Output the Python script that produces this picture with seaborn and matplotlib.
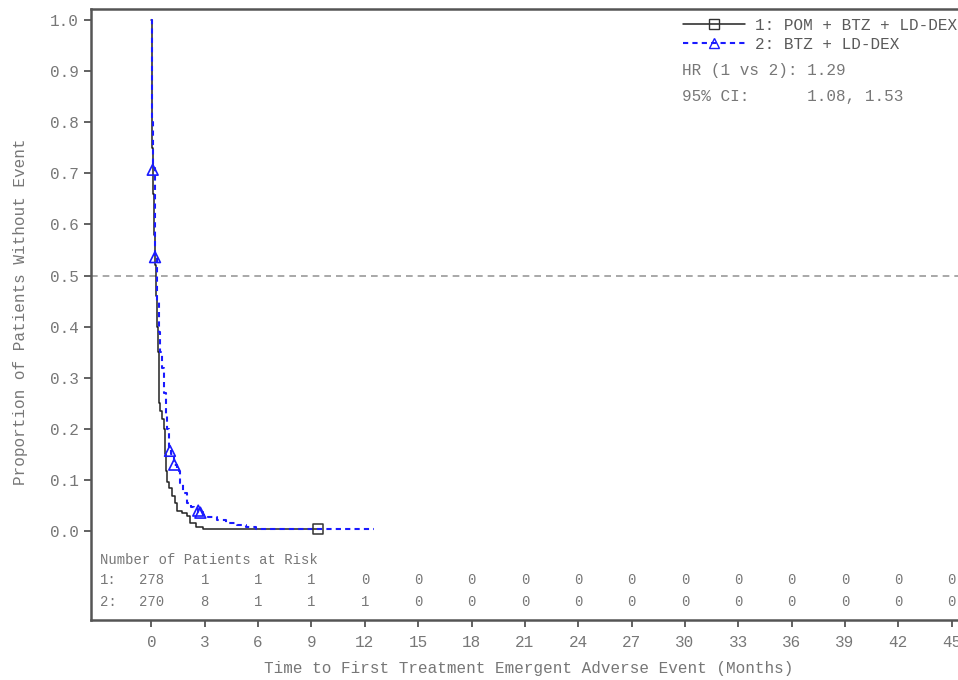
import numpy as np
import pandas as pd
import matplotlib
matplotlib.use("Agg")
import matplotlib.pyplot as plt
from matplotlib.lines import Line2D
import seaborn as sns

# ---------------- data ----------------
time_grp1 = [0, 0.05, 0.1, 0.15, 0.2, 0.25, 0.3, 0.35, 0.4, 0.44, 0.5, 0.6, 0.7, 0.75,
             0.8, 0.9, 1.0, 1.13, 1.3, 1.45, 1.7, 1.98, 2.17, 2.5, 2.9, 9.38]
surv_grp1 = [1.0, 0.75, 0.66, 0.58, 0.52, 0.46, 0.40, 0.35, 0.30, 0.25, 0.235, 0.22, 0.20, 0.15,
             0.117, 0.096, 0.085, 0.068, 0.055, 0.040, 0.035, 0.029, 0.015, 0.008, 0.0036, 0.0036]

time_grp2 = [0, 0.05, 0.1, 0.2, 0.3, 0.4, 0.5, 0.57, 0.7, 0.8, 0.89, 1.0, 1.1, 1.28, 1.42,
             1.6, 1.79, 1.98, 2.2, 2.4, 2.6, 2.9, 3.2, 3.67, 4.2, 4.8, 5.3, 5.9, 6.5, 12.5]
surv_grp2 = [1.0, 0.80, 0.71, 0.54, 0.45, 0.39, 0.35, 0.32, 0.27, 0.23, 0.20, 0.165, 0.15, 0.13, 0.118,
             0.095, 0.075, 0.055, 0.048, 0.043, 0.038, 0.032, 0.027, 0.021, 0.016, 0.012, 0.008,
             0.005, 0.0037, 0.0037]

cens_time_grp1 = [9.38]
cens_surv_grp1 = [0.0036]
cens_time_grp2 = [0.07, 0.2, 1.04, 1.28, 2.63, 2.75]
cens_surv_grp2 = [0.707, 0.536, 0.157, 0.13, 0.04, 0.036]

risk_times = [0, 3, 6, 9, 12, 15, 18, 21, 24, 27, 30, 33, 36, 39, 42, 45]
risk_grp1 = [278, 1, 1, 1, 0, 0, 0, 0, 0, 0, 0, 0, 0, 0, 0, 0]
risk_grp2 = [270, 8, 1, 1, 1, 0, 0, 0, 0, 0, 0, 0, 0, 0, 0, 0]

label_grp1 = "1: POM + BTZ + LD-DEX"
label_grp2 = "2: BTZ + LD-DEX"
hr_text = "HR (1 vs 2): 1.29"
ci_text = "95% CI:      1.08, 1.53"
y_ticks = [0.0, 0.1, 0.2, 0.3, 0.4, 0.5, 0.6, 0.7, 0.8, 0.9, 1.0]

# ---------------- style ----------------
sns.set_style("white")
plt.rcParams['font.family'] = ['Liberation Mono', 'DejaVu Sans Mono']
TXT = "#777777"
SPINE = "#555555"

W, H = 958, 680
fig = plt.figure(figsize=(W / 100, H / 100), dpi=100)
ax = fig.add_axes([91 / W, 1 - 620 / H, (958 - 91) / W, (620 - 9) / H])

df1 = pd.DataFrame({"t": time_grp1, "s": surv_grp1})
df2 = pd.DataFrame({"t": time_grp2, "s": surv_grp2})

ax.axhline(0.5, color="#999999", lw=1.2, ls=(0, (4, 3)), zorder=1)

sns.lineplot(data=df1, x="t", y="s", ax=ax, drawstyle="steps-post", estimator=None,
             sort=False, color="#222222", lw=1.1, zorder=3)
sns.lineplot(data=df2, x="t", y="s", ax=ax, drawstyle="steps-post", estimator=None,
             sort=False, color="#1a1aff", lw=1.5, zorder=4)
ax.lines[-1].set_linestyle((0, (2.5, 2)))

sns.scatterplot(x=cens_time_grp1, y=cens_surv_grp1, ax=ax, marker="s", s=55,
                facecolors="none", edgecolors="#333333", linewidth=1.1, zorder=5)
sns.scatterplot(x=cens_time_grp2, y=cens_surv_grp2, ax=ax, marker="^", s=60,
                facecolors="none", edgecolors="#1a1aff", linewidth=1.2, zorder=6)

ax.set_xlim(-3.40, 45.36)
ax.set_ylim(-0.174, 1.0215)

# ticks
ax.set_xticks(risk_times)
ax.set_xticklabels([str(t) for t in risk_times])
ax.set_yticks(y_ticks)
ax.set_yticklabels([f"{v:.1f}" for v in y_ticks])
ax.tick_params(axis="both", direction="out", length=5, width=1.3, color=SPINE,
               labelcolor=TXT, labelsize=11.5, bottom=True, left=True)
ax.tick_params(axis="x", pad=6)
ax.tick_params(axis="y", pad=4)

for side in ["left", "bottom", "top"]:
    ax.spines[side].set_color(SPINE)
    ax.spines[side].set_linewidth(1.8)
ax.spines["right"].set_visible(False)

ax.set_xlabel("Time to First Treatment Emergent Adverse Event (Months)", color=TXT, fontsize=11.5)
ax.set_ylabel("Proportion of Patients Without Event", color=TXT, fontsize=11.5)
ax.xaxis.set_label_coords(0.505, -0.067)
ax.yaxis.set_label_coords(-0.073, 0.504)

# at-risk table
ax.text(-2.9, -0.057, "Number of Patients at Risk", color=TXT, fontsize=10,
        ha="left", va="center")
ax.text(-2.9, -0.096, "1:", color=TXT, fontsize=10, ha="left", va="center")
ax.text(-2.9, -0.139, "2:", color=TXT, fontsize=10, ha="left", va="center")
for t, n1, n2 in zip(risk_times, risk_grp1, risk_grp2):
    ax.text(t, -0.096, str(n1), color=TXT, fontsize=10, ha="center", va="center")
    ax.text(t, -0.139, str(n2), color=TXT, fontsize=10, ha="center", va="center")

# legend
handles = [
    Line2D([], [], color="#222222", lw=1.1, marker="s", markersize=7,
           markerfacecolor="none", markeredgecolor="#333333"),
    Line2D([], [], color="#1a1aff", lw=1.5, ls=(0, (2.5, 2)), marker="^", markersize=7,
           markerfacecolor="none", markeredgecolor="#1a1aff"),
]
leg = fig.legend(handles, [label_grp1, label_grp2], loc="upper left",
                 bbox_to_anchor=(683 / W, 1 - 18 / H), frameon=False, fontsize=11.5,
                 handlelength=3.9, handletextpad=0.6, borderpad=0, borderaxespad=0,
                 labelspacing=0.25)
for txt in leg.get_texts():
    txt.set_color("#5a5a5a")

fig.text(682 / W, 1 - 71 / H, hr_text, color=TXT, fontsize=11.5, ha="left", va="center")
fig.text(682 / W, 1 - 97 / H, ci_text, color=TXT, fontsize=11.5, ha="left", va="center")

fig.savefig("out.png", dpi=100)
